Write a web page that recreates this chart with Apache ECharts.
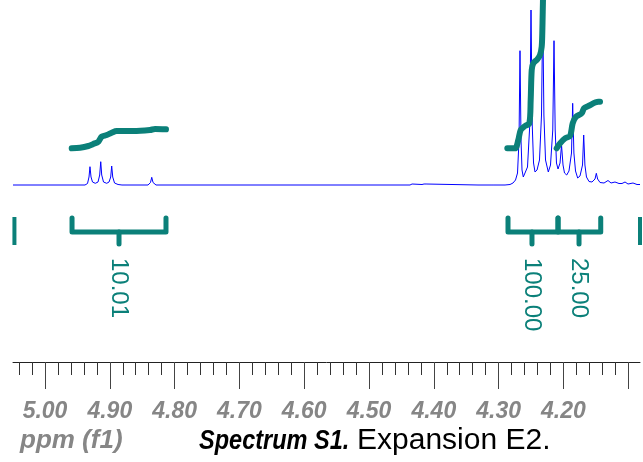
<!DOCTYPE html>
<html>
<head>
<meta charset="utf-8">
<script src="https://cdn.jsdelivr.net/npm/echarts@6/dist/echarts.min.js"></script>
<style>
html, body { margin: 0; padding: 0; background: #fff; }
#main { width: 643px; height: 462px; }
</style>
</head>
<body>
<div id="main"></div>
<script>
// 1H trace (ppm, intensity above baseline)
const specPpm = [
  5.0494, 4.9383, 4.9344, 4.9321, 4.9306, 4.9290, 4.9267, 4.9224, 4.9182, 4.9156,
  4.9140, 4.9125, 4.9097, 4.9048, 4.9012, 4.8986, 4.8971, 4.8955, 4.8927, 4.8873,
  4.8812, 4.8410, 4.8372, 4.8353, 4.8333, 4.8287, 4.4367, 4.4336, 4.4321, 4.4306,
  4.4182, 4.4151, 4.4136, 4.4120, 4.4090, 4.3318, 4.3302, 4.3287, 4.3117, 4.3102,
  4.3086, 4.2901, 4.2824, 4.2778, 4.2739, 4.2708, 4.2685, 4.2670, 4.2654, 4.2639,
  4.2619, 4.2593, 4.2554, 4.2519, 4.2500, 4.2481, 4.2461, 4.2438, 4.2407, 4.2369,
  4.2338, 4.2319, 4.2301, 4.2276, 4.2233, 4.2199, 4.2164, 4.2145, 4.2127, 4.2107,
  4.2083, 4.2052, 4.2029, 4.2006, 4.1983, 4.1949, 4.1914, 4.1875, 4.1857, 4.1838,
  4.1813, 4.1780, 4.1744, 4.1705, 4.1687, 4.1668, 4.1644, 4.1605, 4.1559, 4.1512,
  4.1492, 4.1472, 4.1435, 4.1373, 4.1312, 4.1265, 4.1204, 4.1142, 4.1096, 4.1049,
  4.1003, 4.0926, 4.0864, 4.0818
];
const specInt = [
  0, 0, 1.5, 8, 18.3, 8, 3, 1.7, 3, 10,
  23.3, 10, 3, 1.7, 3, 8, 19, 8, 2, 0.5,
  0, 0, 2.5, 7.7, 2.5, 0, 0, 1, 3, 1,
  0.5, 1, 3, 1, 0, 0, 1.5, 0, 0, 1.5,
  0, 0, 0.5, 2, 5, 12, 45, 134.3, 45, 15,
  8, 9, 18, 60, 175, 60, 22, 13, 15, 25,
  70, 175, 70, 25, 13, 20, 55, 144.3, 55, 22,
  16, 22, 40, 20, 12, 10, 14, 32, 81.7, 32,
  14, 7, 9, 20, 50, 20, 8, 3.5, 3, 6,
  11.7, 6, 2.5, 2, 4.5, 2, 3, 1.5, 1.5, 3,
  1, 2, 0.5, 0.5
];

// integral curves
const integ1Ppm = [4.9588, 4.9460, 4.9332, 4.9255, 4.9177, 4.9125, 4.9048, 4.8971, 4.8894, 4.8637, 4.8380, 4.8302, 4.8133];
const integ1Val = [36.7, 37.3, 39, 41, 43.3, 48.3, 50, 52.3, 54, 54, 55, 56, 55.7];
const integ2Ppm = [4.2866, 4.2747, 4.2696, 4.2659, 4.2593, 4.2526, 4.2505, 4.2489, 4.2465, 4.2403, 4.2361, 4.2335, 4.2326, 4.2319, 4.2312];
const integ2Val = [36.7, 36.7, 45, 55, 59, 61.7, 85, 115, 121.7, 125.7, 130, 138.3, 151.7, 173.3, 195];
const integ3Ppm = [4.2104, 4.2052, 4.1975, 4.1898, 4.1857, 4.1806, 4.1718, 4.1682, 4.1616, 4.1462, 4.1435];
const integ3Val = [36.7, 41.7, 46.7, 49, 61.7, 68.3, 71.7, 76.7, 79, 83.3, 83.3];

// integration ranges and values
const rangeFrom = [4.9583, 4.2855, 4.2083];
const rangeTo = [4.8133, 4.2083, 4.1424];
const rangeMid = [4.8858, 4.2485, 4.1759];
const rangeLabels = ['10.01', '100.00', '25.00'];
const edgeMarks = [5.0472, 4.0818];

const majorTicks = [5.0, 4.9, 4.8, 4.7, 4.6, 4.5, 4.4, 4.3, 4.2, 4.1];
const tickLabels = [5.0, 4.9, 4.8, 4.7, 4.6, 4.5, 4.4, 4.3, 4.2];
const minorTicks = [5.04, 5.02, 4.98, 4.96, 4.94, 4.92, 4.88, 4.86, 4.84, 4.82,
  4.78, 4.76, 4.74, 4.72, 4.68, 4.66, 4.64, 4.62, 4.58, 4.56, 4.54, 4.52,
  4.48, 4.46, 4.44, 4.42, 4.38, 4.36, 4.34, 4.32, 4.28, 4.26, 4.24, 4.22,
  4.18, 4.16, 4.14, 4.12];

const TEAL = '#0b8079';
const FONT = '"Liberation Sans", Arial, sans-serif';
const X_MIN = 4.0818, X_MAX = 5.0494;

const pairs = (xs, ys) => xs.map((x, i) => [x, ys[i]]);

function renderBracket(params, api) {
  const y = v => api.coord([X_MAX, v])[1];
  const x0 = api.coord([api.value(0), 0])[0];
  const x1 = api.coord([api.value(1), 0])[0];
  const xm = api.coord([api.value(2), 0])[0];
  const top = y(-33), bar = y(-47), tick = y(-59), lab = y(-73);
  const lw = 5;
  return {
    type: 'group',
    children: [
      { type: 'polyline', shape: { points: [[x0, top], [x0, bar], [x1, bar], [x1, top]] },
        style: { stroke: TEAL, lineWidth: lw, fill: null, lineJoin: 'round', lineCap: 'round' } },
      { type: 'line', shape: { x1: xm, y1: bar, x2: xm, y2: tick },
        style: { stroke: TEAL, lineWidth: lw, lineCap: 'round' } },
      { type: 'text', x: xm, y: lab, rotation: -Math.PI / 2,
        style: { text: rangeLabels[params.dataIndex], fill: TEAL, font: '24px ' + FONT,
          align: 'left', verticalAlign: 'middle' } }
    ]
  };
}

function renderEdge(params, api) {
  const p0 = api.coord([api.value(0), -32]);
  const p1 = api.coord([api.value(0), -60]);
  return { type: 'line', shape: { x1: p0[0], y1: p0[1], x2: p1[0], y2: p1[1] },
    style: { stroke: TEAL, lineWidth: 4 } };
}

const chart = echarts.init(document.getElementById('main'));
chart.setOption({
  animation: false,
  grid: { left: 13, right: 3, top: 0, bottom: 100 },
  xAxis: [
    {
      type: 'value', inverse: true, min: X_MIN, max: X_MAX, position: 'bottom',
      splitLine: { show: false },
      axisLine: { show: true, onZero: false, lineStyle: { color: '#222', width: 1 } },
      axisTick: { show: true, customValues: majorTicks, length: 27, lineStyle: { color: '#444' } },
      axisLabel: {
        customValues: tickLabels, margin: 38, formatter: v => v.toFixed(2),
        color: '#868686', fontSize: 23, fontWeight: 'bold', fontStyle: 'italic', fontFamily: FONT
      }
    },
    {
      type: 'value', inverse: true, min: X_MIN, max: X_MAX, position: 'bottom',
      splitLine: { show: false },
      axisLine: { show: false, onZero: false },
      axisTick: { show: true, customValues: minorTicks, length: 13, lineStyle: { color: '#333' } },
      axisLabel: { show: false }
    }
  ],
  yAxis: { type: 'value', min: -177, max: 185, show: false, splitLine: { show: false } },
  series: [
    { type: 'line', data: pairs(specPpm, specInt), showSymbol: false, symbol: 'none',
      lineStyle: { color: '#0000ff', width: 1 }, z: 2, clip: true },
    { type: 'line', data: pairs(integ1Ppm, integ1Val), showSymbol: false, symbol: 'none', smooth: 0.3,
      lineStyle: { color: TEAL, width: 6, cap: 'round', join: 'round' }, z: 3, clip: true },
    { type: 'line', data: pairs(integ2Ppm, integ2Val), showSymbol: false, symbol: 'none', smooth: 0.3,
      lineStyle: { color: TEAL, width: 6, cap: 'round', join: 'round' }, z: 3, clip: true },
    { type: 'line', data: pairs(integ3Ppm, integ3Val), showSymbol: false, symbol: 'none', smooth: 0.3,
      lineStyle: { color: TEAL, width: 6, cap: 'round', join: 'round' }, z: 3, clip: true },
    { type: 'custom', renderItem: renderBracket, clip: false,
      data: rangeFrom.map((f, i) => [f, rangeTo[i], rangeMid[i]]), z: 4 },
    { type: 'custom', renderItem: renderEdge, clip: false,
      data: edgeMarks.map(p => [p]), z: 4 }
  ],
  graphic: [
    { type: 'text', left: 20, top: 428,
      style: { text: 'ppm (f1)', font: 'italic bold 26px ' + FONT, fill: '#868686' } },
    { type: 'text', x: 199, y: 441, scaleX: 0.84,
      style: { text: 'Spectrum S1.', font: 'italic bold 28px ' + FONT, fill: '#000',
        align: 'left', verticalAlign: 'middle' } },
    { type: 'text', x: 357, y: 441,
      style: { text: 'Expansion E2.', font: '30px ' + FONT, fill: '#000',
        align: 'left', verticalAlign: 'middle' } }
  ]
});
</script>
</body>
</html>
